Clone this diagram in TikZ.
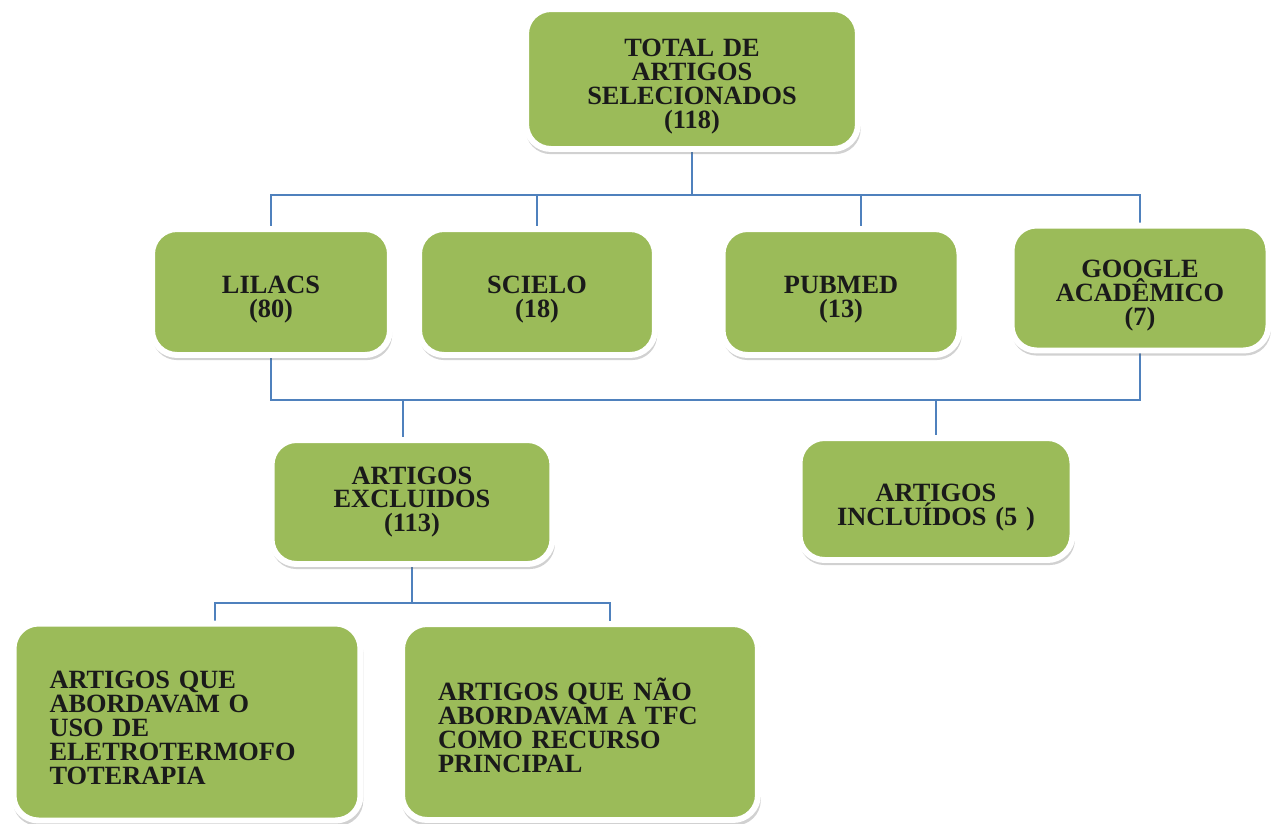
\documentclass[tikz,border=0pt]{standalone}
\usepackage{fontspec}
\setmainfont{Liberation Serif}
\usetikzlibrary{shadows,backgrounds}
\definecolor{vertboite}{HTML}{9BBB59}
\definecolor{bleulien}{HTML}{4F81BD}
\definecolor{texte}{HTML}{1A1A1A}

\begin{document}
\begin{tikzpicture}[x=0.02cm, y=-0.02cm,
    boite/.style={rounded corners=0.5cm, fill=vertboite, draw=white,
      line width=3.4pt, text=texte, align=center,
      font=\fontsize{15}{13.6}\selectfont\bfseries,
      drop shadow={shadow xshift=0.6pt, shadow yshift=-2.5pt,
        shadow scale=1.01, opacity=0.3, fill=black!60}},
    decale/.style={execute at begin node={\rule{0pt}{#1}}},
    lien/.style={draw=bleulien, line width=1.1pt}]
  \useasboundingbox (0,0) rectangle (1271,823);

  % Total
  \node[boite, decale=18.5pt, text width=5.5cm, minimum width=6.64cm,
    minimum height=2.8cm] (total) at (692,79)
    {TOTAL DE\\ARTIGOS\\SELECIONADOS\\(118)};

  % Bases de dados
  \node[boite, decale=18.5pt, text width=4cm, minimum width=4.76cm,
    minimum height=2.52cm] (lilacs) at (271,292) {LILACS\\(80)};
  \node[boite, decale=18.5pt, text width=4cm, minimum width=4.72cm,
    minimum height=2.52cm] (scielo) at (537,292) {SCIELO\\(18)};
  \node[boite, decale=18.5pt, text width=4cm, minimum width=4.74cm,
    minimum height=2.52cm] (pubmed) at (841,292) {PUBMED\\(13)};
  \node[boite, decale=18.5pt, text width=4.3cm, minimum width=5.14cm,
    minimum height=2.5cm] (google) at (1140,288) {GOOGLE\\ACAD\^EMICO\\(7)};

  % Triagem
  \node[boite, text width=4.8cm, minimum width=5.62cm,
    minimum height=2.48cm] (excluidos) at (412,502) {ARTIGOS\\EXCLUIDOS\\(113)};
  \node[boite, decale=19.5pt, text width=4.6cm, minimum width=5.46cm,
    minimum height=2.44cm] (incluidos) at (936,499) {ARTIGOS\\INCLUÍDOS (5 )};

  % Motivos
  \node[boite, decale=16.5pt, align=left, text width=5.5cm, minimum width=6.94cm,
    minimum height=3.94cm] (eletro) at (187,722)
    {ARTIGOS QUE\\ABORDAVAM O\\USO DE\\ELETROTERMOFO\\TOTERAPIA};
  \node[boite, decale=16.5pt, align=left, text width=5.68cm, minimum width=7.12cm,
    minimum height=3.92cm] (recurso) at (580,722)
    {ARTIGOS QUE NÃO\\ABORDAVAM A TFC\\COMO RECURSO\\PRINCIPAL};

  % Liens
  \coordinate (bus1) at (692,195);
  \coordinate (bus2) at (692,400);
  \coordinate (bus3) at (412,603);
  \begin{scope}[on background layer]
    \draw[lien] (total.south) -- (bus1);
    \draw[lien] (lilacs.north) |- (bus1) -| (google.north);
    \draw[lien] (scielo.north) -- (scielo.north |- bus1);
    \draw[lien] ([xshift=0.4cm]pubmed.north) -- ([xshift=0.4cm]pubmed.north |- bus1);

    \draw[lien] (lilacs.south) -- (lilacs.south |- bus2) -- (google.south |- bus2)
      -- (google.south);
    \draw[lien] ([xshift=-0.18cm]excluidos.north) -- ([xshift=-0.18cm]excluidos.north |- bus2);
    \draw[lien] (incluidos.north) -- (incluidos.north |- bus2);

    \draw[lien] (excluidos.south) -- (bus3);
    \draw[lien] ([xshift=0.56cm]eletro.north) |- (bus3) -| ([xshift=0.6cm]recurso.north);
  \end{scope}
\end{tikzpicture}
\end{document}
